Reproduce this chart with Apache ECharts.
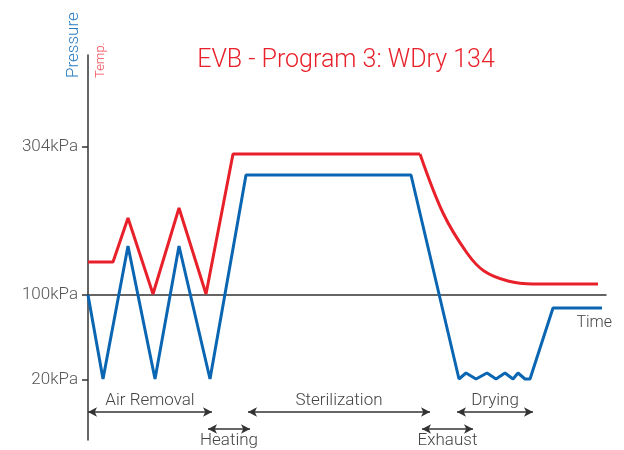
<!DOCTYPE html>
<html>
<head>
<meta charset="utf-8">
<script src="https://cdn.jsdelivr.net/npm/echarts@6/dist/echarts.min.js"></script>
<style>
  html, body { margin: 0; padding: 0; background: #fff; }
  #chart { width: 624px; height: 450px; }
</style>
</head>
<body>
<div id="chart"></div>
<script>
// schematic units: x = time, y = level (0 = 100kPa line)
var pressure = [
  [0, 0], [15, -84], [40, 49], [67, -84], [91, 49], [122, -84],
  [158, 120], [323, 120], [371, -84],
  [378, -78], [388, -84], [399, -78], [408, -84], [417, -78], [425, -84],
  [430, -78], [437, -84], [442, -84],
  [465, -13], [514, -13]
];
var tempRise = [
  [0, 33], [25, 33], [40, 77], [65, 1], [91, 87], [118, 1],
  [145, 141], [332, 141]
];
var tempCool = [
  [332, 141], [355, 82], [379, 42], [396, 24], [420, 14], [445, 11], [510, 11]
];
var yTicks = [148, 0, -85];
var yTickLabels = { '148': '304kPa', '0': '100kPa', '-85': '20kPa' };

// phase arrows: name, from, to, level, label side
var phases = [
  ['Air Removal', 0, 124, -117, 'top'],
  ['Heating', 120, 162, -134, 'bottom'],
  ['Sterilization', 160, 342, -117, 'top'],
  ['Exhaust', 334, 385, -134, 'bottom'],
  ['Drying', 369, 445, -117, 'top']
];

var red = '#e8202a';
var blue = '#0a66b2';
var font = 'Roboto';

var myChart = echarts.init(document.getElementById('chart'));

var arrowData = phases.map(function (p) {
  return [
    {
      coord: [p[1], p[3]],
      label: {
        formatter: p[0],
        position: p[4] === 'top' ? 'insideMiddleTop' : 'insideMiddleBottom'
      }
    },
    { coord: [p[2], p[3]] }
  ];
});

option = {
  animation: false,
  title: {
    text: 'EVB - Program 3: WDry 134',
    left: 341,
    top: 43,
    textAlign: 'center',
    textStyle: { color: red, fontSize: 25, fontWeight: 300, fontFamily: font }
  },
  grid: { left: 88, right: 18, top: 55, bottom: 10 },
  xAxis: {
    type: 'value',
    min: 0,
    max: 518,
    name: 'Time',
    nameLocation: 'end',
    nameGap: 6,
    nameTextStyle: {
      color: '#444', fontSize: 16, fontWeight: 300, fontFamily: font,
      align: 'right', verticalAlign: 'top', padding: [20, 0, 0, 0]
    },
    axisLine: { onZero: true, lineStyle: { color: '#333', width: 1.5 } },
    axisTick: { show: false },
    axisLabel: { show: false },
    splitLine: { show: false }
  },
  yAxis: {
    type: 'value',
    min: -145,
    max: 240,
    axisLine: { show: true, onZero: false, lineStyle: { color: '#333', width: 1.5 } },
    axisTick: { show: true, length: 6, customValues: yTicks, lineStyle: { color: '#333', width: 1.5 } },
    axisLabel: {
      customValues: yTicks,
      margin: 10,
      color: '#555',
      fontSize: 17,
      fontWeight: 300,
      fontFamily: font,
      formatter: function (v) { return yTickLabels[String(v)] || ''; }
    },
    splitLine: { show: false }
  },
  series: [
    {
      type: 'line',
      data: tempRise,
      symbol: 'none',
      lineStyle: { color: red, width: 3 },
      z: 2
    },
    {
      type: 'line',
      data: tempCool,
      symbol: 'none',
      smooth: 0.35,
      lineStyle: { color: red, width: 3 },
      z: 2
    },
    {
      type: 'line',
      data: pressure,
      symbol: 'none',
      lineStyle: { color: blue, width: 3 },
      z: 3,
      markLine: {
        silent: true,
        symbol: ['arrow', 'arrow'],
        symbolSize: [7, 9],
        lineStyle: { color: '#333', width: 1.5, type: 'solid' },
        label: {
          color: '#444',
          fontSize: 17,
          fontWeight: 300,
          fontFamily: font,
          distance: 3
        },
        data: arrowData
      }
    }
  ],
  graphic: [
    {
      type: 'text',
      x: 82,
      y: 78,
      rotation: Math.PI / 2,
      style: {
        text: 'Pressure',
        fill: '#2a7cc2',
        fontSize: 17,
        fontWeight: 300,
        fontFamily: font,
        align: 'left',
        verticalAlign: 'bottom'
      }
    },
    {
      type: 'text',
      x: 107,
      y: 78,
      rotation: Math.PI / 2,
      style: {
        text: 'Temp.',
        fill: '#ee4650',
        fontSize: 13,
        fontWeight: 300,
        fontFamily: font,
        align: 'left',
        verticalAlign: 'bottom'
      }
    }
  ]
};
myChart.setOption(option);
</script>
</body>
</html>
